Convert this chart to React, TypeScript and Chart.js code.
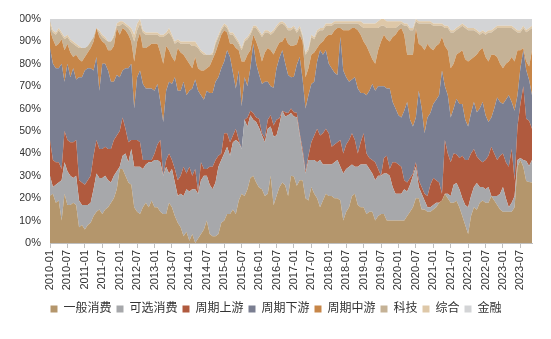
import React, { useEffect, useRef } from "react";
import { Chart, registerables } from "chart.js";

Chart.register(...registerables);

// Month labels 2010-01 .. 2023-11
const firstYear = 2010;
const lastYear = 2023;
const lastMonthOfLastYear = 11;
const months: string[] = [];
for (let y = firstYear; y <= lastYear; y++) {
  for (let m = 1; m <= 12; m++) {
    if (y === lastYear && m > lastMonthOfLastYear) break;
    months.push(`${y}-${String(m).padStart(2, "0")}`);
  }
}

const seriesNames = ["一般消费", "可选消费", "周期上游", "周期下游", "周期中游", "科技", "综合", "金融"];
const seriesColors = ["#B4966C", "#A7A8AB", "#B05A3E", "#7A7E91", "#C78648", "#C5B296", "#DEC8A8", "#D3D4D6"];

const yTicks = [0, 10, 20, 30, 40, 50, 60, 70, 80, 90, 100];

// shares (%) per month, one row per year
const general = [
  21, 22, 18, 19, 10, 22, 17, 17, 18, 17, 7, 8,
  6, 8, 9, 12, 14, 15, 13, 15, 16, 18, 20, 24,
  33, 33, 30, 27, 26, 16, 14, 13, 16, 18, 16, 19,
  16, 16, 14, 13, 13, 18, 16, 12, 9, 7, 3, 5,
  1, 4, 0, 2, 4, 6, 10, 4, 3, 3, 4, 9,
  10, 13, 13, 15, 13, 19, 22, 21, 24, 29, 30, 27,
  25, 24, 21, 22, 30, 17, 21, 25, 27, 26, 21, 30,
  30, 25, 28, 28, 20, 19, 25, 22, 20, 16, 19, 22,
  21, 21, 20, 20, 19, 10, 14, 16, 21, 22, 17, 16,
  16, 13, 14, 14, 10, 12, 13, 13, 10, 10, 10, 10,
  10, 10, 10, 12, 14, 16, 20, 20, 15, 15, 14, 14,
  15, 16, 18, 19, 22, 20, 18, 18, 19, 16, 12, 8,
  4, 12, 16, 15, 18, 19, 18, 18, 21, 19, 17, 15,
  14, 14, 14, 14, 16, 34, 37, 34, 28, 27, 27,
];

const optional = [
  9, 3, 8, 8, 18, 14, 15, 13, 11, 13, 12, 9,
  11, 9, 9, 12, 17, 14, 16, 15, 12, 9, 10, 8,
  1, 6, 10, 9, 16, 18, 20, 21, 17, 17, 20, 17,
  21, 21, 22, 17, 21, 13, 17, 15, 12, 15, 18, 19,
  22, 20, 24, 20, 24, 24, 20, 22, 21, 24, 30, 28,
  30, 30, 26, 30, 33, 26, 20, 34, 28, 28, 25, 27,
  27, 24, 24, 29, 22, 31, 27, 28, 32, 31, 36, 28,
  27, 30, 20, 12, 11, 18, 12, 15, 16, 21, 16, 13,
  14, 14, 16, 17, 15, 21, 19, 18, 14, 12, 17, 19,
  19, 22, 19, 17, 18, 18, 17, 18, 21, 20, 15, 12,
  12, 12, 14, 11, 12, 14, 14, 5, 7, 4, 2, 2,
  2, 2, 0, 0, 0, 2, 3, 8, 8, 8, 8, 9,
  12, 9, 9, 12, 7, 6, 6, 7, 0, 2, 4, 7,
  11, 6, 2, 4, 5, 3, 1, 3, 9, 7, 10,
];

const upstream = [
  16, 12, 10, 9, 5, 14, 14, 15, 16, 16, 9, 10,
  9, 11, 12, 15, 15, 13, 13, 13, 14, 15, 16, 16,
  16, 17, 11, 9, 4, 12, 12, 11, 4, 2, 1, 1,
  3, 7, 10, 0, 3, 9, 4, 6, 7, 8, 13, 7,
  11, 6, 9, 1, 8, 3, 3, 8, 10, 10, 5, 3,
  9, 6, 6, 3, 5, 1, 0, 0, 4, 2, 3, 2,
  4, 1, 2, 4, 5, 5, 7, 3, 0, 2, 1, 2,
  2, 2, 1, 2, 1, 2, 8, 11, 15, 11, 14, 16,
  14, 8, 8, 8, 12, 9, 11, 12, 14, 12, 6, 10,
  14, 5, 5, 6, 8, 3, 0, 7, 8, 3, 11, 14,
  13, 12, 4, 4, 3, 1, 2, 3, 3, 3, 5, 10,
  12, 10, 9, 3, 24, 18, 15, 14, 13, 14, 19, 20,
  21, 19, 17, 12, 12, 11, 13, 14, 22, 19, 16, 17,
  15, 16, 18, 24, 7, 15, 24, 33, 19, 20, 14,
];

const downstream = [
  41, 43, 42, 42, 47, 22, 34, 29, 33, 27, 46, 47,
  51, 50, 48, 38, 37, 26, 38, 37, 35, 30, 26, 27,
  24, 21, 27, 33, 34, 14, 28, 32, 34, 32, 32, 32,
  28, 27, 17, 24, 31, 32, 34, 41, 40, 38, 38, 35,
  34, 39, 40, 45, 30, 31, 35, 33, 33, 35, 35, 38,
  32, 37, 38, 28, 18, 31, 19, 19, 14, 19, 31, 24,
  20, 22, 25, 17, 13, 17, 23, 27, 27, 22, 17, 14,
  16, 21, 34, 31, 28, 27, 26, 24, 30, 38, 35, 35,
  31, 35, 32, 30, 46, 37, 30, 26, 24, 28, 29, 22,
  18, 26, 30, 34, 32, 37, 40, 32, 30, 36, 27, 24,
  22, 22, 31, 36, 26, 21, 20, 40, 35, 27, 35, 32,
  33, 36, 39, 55, 24, 26, 20, 20, 25, 24, 23, 18,
  15, 18, 21, 20, 23, 27, 20, 15, 13, 20, 28, 24,
  22, 28, 32, 21, 31, 14, 16, 16, 22, 18, 15,
];

const midstream = [
  8, 11, 10, 11, 11, 14, 9, 11, 5, 11, 8, 7,
  6, 7, 9, 13, 13, 24, 10, 9, 9, 14, 16, 21,
  19, 19, 17, 15, 10, 21, 16, 17, 16, 18, 19, 20,
  21, 18, 22, 26, 20, 14, 12, 7, 19, 17, 12, 16,
  12, 9, 10, 10, 11, 13, 10, 12, 15, 13, 15, 15,
  14, 8, 6, 13, 18, 9, 20, 7, 14, 8, 4, 10,
  11, 10, 13, 15, 16, 15, 9, 7, 4, 12, 14, 14,
  14, 9, 10, 17, 14, 12, 13, 13, 6, 3, 6, 6,
  13, 15, 19, 21, 4, 18, 21, 23, 23, 22, 26, 26,
  23, 22, 17, 11, 12, 16, 20, 23, 22, 21, 29, 33,
  38, 40, 34, 21, 29, 32, 40, 21, 28, 37, 33, 29,
  24, 24, 23, 15, 18, 20, 22, 20, 20, 23, 24, 27,
  29, 24, 20, 26, 26, 24, 26, 27, 28, 24, 18, 17,
  16, 16, 15, 20, 22, 20, 8, 1, 4, 6, 20,
];

const tech = [
  2, 3, 5, 6, 2, 5, 3, 5, 6, 4, 5, 6,
  4, 3, 3, 2, 0, 2, 2, 2, 4, 4, 4, 1,
  4, 2, 2, 3, 4, 9, 5, 4, 7, 6, 5, 4,
  4, 4, 7, 12, 5, 8, 9, 8, 3, 4, 5, 7,
  9, 10, 5, 9, 8, 7, 6, 5, 2, 4, 3, 2,
  2, 2, 4, 4, 4, 3, 5, 9, 7, 7, 3, 6,
  8, 11, 9, 7, 7, 10, 9, 8, 8, 5, 6, 7,
  8, 5, 3, 2, 10, 8, 8, 6, 7, 6, 5, 5,
  4, 4, 3, 2, 2, 3, 3, 3, 2, 2, 3, 4,
  6, 8, 11, 14, 16, 10, 7, 4, 5, 6, 4, 3,
  2, 2, 4, 13, 11, 11, 3, 9, 10, 12, 9, 11,
  11, 9, 8, 5, 8, 10, 16, 14, 11, 11, 11, 14,
  14, 13, 12, 10, 7, 7, 10, 13, 10, 11, 13, 16,
  18, 16, 15, 13, 14, 8, 8, 9, 13, 16, 10,
];

const composite = [
  2, 1, 1, 1, 1, 1, 1, 1, 1, 1, 1, 0,
  0, 0, 0, 0, 0, 1, 1, 1, 0, 0, 1, 1,
  2, 1, 1, 1, 2, 3, 3, 2, 1, 1, 1, 1,
  1, 1, 1, 1, 1, 2, 1, 1, 1, 1, 1, 1,
  1, 2, 2, 1, 1, 1, 0, 0, 1, 1, 1, 1,
  1, 1, 1, 1, 1, 1, 1, 1, 1, 1, 1, 1,
  1, 1, 1, 1, 1, 1, 1, 1, 1, 1, 1, 1,
  1, 1, 1, 1, 1, 1, 1, 1, 1, 1, 1, 1,
  1, 1, 1, 1, 1, 1, 1, 1, 1, 1, 1, 2,
  2, 2, 2, 2, 2, 3, 3, 3, 3, 3, 3, 3,
  2, 1, 1, 1, 1, 1, 1, 1, 1, 1, 1, 1,
  1, 1, 1, 1, 1, 1, 1, 1, 1, 1, 1, 1,
  1, 1, 1, 1, 1, 1, 1, 1, 1, 1, 1, 1,
  1, 1, 1, 1, 1, 1, 1, 1, 1, 1, 1,
];

const finance = [
  1, 5, 6, 4, 6, 8, 7, 9, 10, 11, 12, 13,
  13, 12, 10, 8, 4, 5, 7, 8, 10, 10, 7, 2,
  1, 1, 2, 3, 4, 7, 2, 0, 5, 6, 6, 6,
  6, 6, 7, 7, 6, 4, 7, 10, 9, 10, 10, 10,
  10, 10, 10, 12, 14, 15, 16, 16, 15, 10, 7, 4,
  2, 3, 6, 6, 8, 10, 13, 9, 8, 6, 3, 3,
  5, 7, 5, 5, 6, 5, 3, 1.5, 1, 2, 4, 4,
  3, 5, 3, 7, 15, 13, 7, 8, 5, 4, 4, 2,
  2, 2, 1, 1, 1, 1, 1, 1, 1, 1, 1, 1,
  2, 2, 2, 2, 2, 1, 0, 0, 1, 1, 1, 1,
  1, 1, 2, 2, 4, 4, 0, 1, 1, 1, 1, 1,
  2, 2, 2, 2, 3, 3, 5, 5, 4, 3, 2, 3,
  4, 4, 4, 5, 6, 5, 6, 5, 5, 4, 3, 3,
  3, 3, 3, 3, 4, 5, 5, 3, 5, 4, 3,
];

const seriesValues = [general, optional, upstream, downstream, midstream, tech, composite, finance];

const FONT = "'Liberation Sans', Arial, 'Noto Sans CJK SC', sans-serif";

export default function App() {
  const canvasRef = useRef<HTMLCanvasElement | null>(null);

  useEffect(() => {
    const canvas = canvasRef.current;
    if (!canvas) return;
    // 100% stacked: normalise each month to a total of 100
    const totals = months.map((_, i) => seriesValues.reduce((s, arr) => s + (arr[i] ?? 0), 0));
    const datasets = seriesValues.map((arr, k) => ({
      label: seriesNames[k],
      data: months.map((_, i) => ((arr[i] ?? 0) / (totals[i] || 1)) * 100),
      backgroundColor: seriesColors[k],
      borderColor: seriesColors[k],
      borderWidth: 0,
      pointRadius: 0,
      pointHoverRadius: 0,
      tension: 0,
      fill: k === 0 ? "origin" : "-1",
    }));

    const chart = new Chart(canvas, {
      type: "line",
      data: { labels: months, datasets: datasets as any },
      options: {
        responsive: false,
        maintainAspectRatio: false,
        animation: false,
        layout: { padding: { left: 20, right: 19, top: 19, bottom: 14 } },
        plugins: {
          tooltip: { enabled: false },
          legend: {
            display: true,
            position: "bottom",
            labels: {
              boxWidth: 7,
              boxHeight: 7,
              padding: 5,
              color: "#333333",
              font: { family: FONT, size: 12 },
            },
          },
        },
        scales: {
          x: {
            type: "category",
            offset: false,
            border: { display: true, color: "#BFBFBF", width: 1 },
            grid: {
              display: true,
              drawOnChartArea: false,
              drawTicks: true,
              tickLength: 5,
              color: (ctx: any) => (ctx.index % 6 === 0 ? "#BFBFBF" : "rgba(0,0,0,0)"),
            },
            ticks: {
              autoSkip: false,
              maxRotation: 90,
              minRotation: 90,
              padding: 2,
              color: "#333333",
              font: { family: FONT, size: 11 },
              callback: (_v: any, i: number) => (i % 6 === 0 ? months[i] : ""),
            },
            afterFit: (s: any) => {
              s.height = 55;
            },
          },
          y: {
            stacked: true,
            min: 0,
            max: 100,
            border: { display: true, color: "#BFBFBF", width: 1 },
            grid: { display: false, drawTicks: false },
            afterBuildTicks: (s: any) => {
              s.ticks = yTicks.map((v) => ({ value: v }));
            },
            ticks: {
              padding: 9,
              color: "#333333",
              font: { family: FONT, size: 11 },
              callback: (v: any) => `${v}%`,
            },
            afterFit: (s: any) => {
              s.width = 30;
            },
          },
        },
      },
    });
    return () => chart.destroy();
  }, []);

  return (
    <div style={{ position: "absolute", left: 0, top: 0, width: 551, height: 339, background: "#fff" }}>
      <canvas ref={canvasRef} width={551} height={339} style={{ width: 551, height: 339, display: "block" }} />
    </div>
  );
}
